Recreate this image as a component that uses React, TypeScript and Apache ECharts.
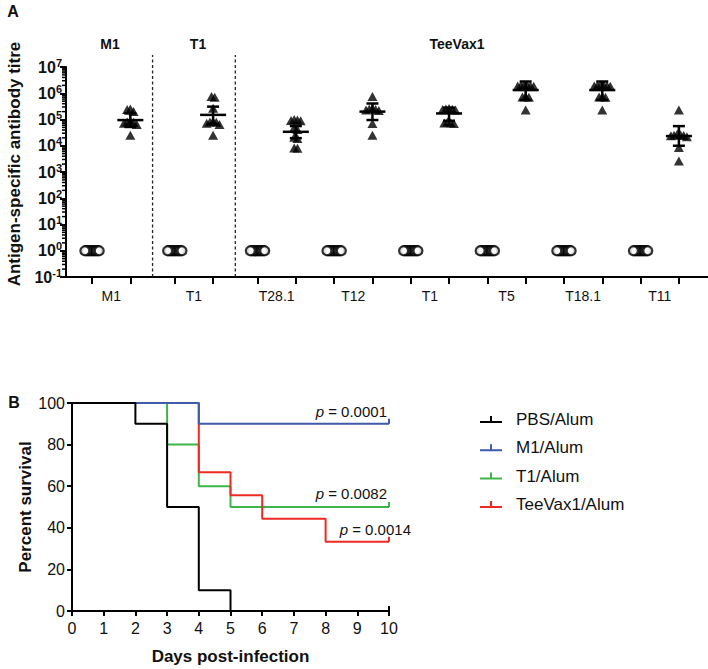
import React, { useEffect, useRef } from "react";
import * as echarts from "echarts";

// ---------- Panel A data ----------
const antigens = ["M1", "T1", "T28.1", "T12", "T1", "T5", "T18.1", "T11"];
const groupHeaders = ["M1", "T1", "TeeVax1"];

const ctrl = [1, 1, 1, 1, 1, 1, 1, 1, 1, 1];
const controlTitres = [ctrl, ctrl, ctrl, ctrl, ctrl, ctrl, ctrl, ctrl];

const immuneTitres = [
  [250000, 240000, 200000, 85000, 80000, 78000, 72000, 65000, 25000],
  [750000, 700000, 270000, 85000, 80000, 78000, 72000, 65000, 25000],
  [100000, 95000, 92000, 90000, 50000, 42000, 21000, 19000, 8200, 8000],
  [750000, 260000, 250000, 240000, 230000, 220000, 70000, 25000],
  [260000, 250000, 245000, 240000, 230000, 80000, 76000, 74000, 70000],
  [2100000, 2050000, 2000000, 1950000, 1900000, 1850000, 750000, 720000, 700000, 230000],
  [2100000, 2050000, 2000000, 1950000, 1900000, 1850000, 750000, 720000, 700000, 230000],
  [230000, 28000, 26000, 25000, 24500, 24000, 22000, 8500, 2600],
];
const meanTitre = [95000, 150000, 34000, 200000, 170000, 1320000, 1320000, 23400];
const sdLower = [52000, 67600, 19500, 95500, 89000, 550000, 550000, 10000];
const sdUpper = [170000, 309000, 56200, 407000, 282000, 2800000, 2800000, 56000];

const yTickExponents = [-1, 0, 1, 2, 3, 4, 5, 6, 7];

// ---------- Panel B data ----------
const survivalNames = ["PBS/Alum", "M1/Alum", "T1/Alum", "TeeVax1/Alum"];
const survivalPBS = [[0, 100], [2, 90], [3, 50], [4, 10], [5, 0], [10, 0]];
const survivalM1 = [[0, 100], [4, 90], [10, 90]];
const survivalT1 = [[0, 100], [3, 80], [4, 60], [5, 50], [10, 50]];
const survivalTeeVax1 = [[0, 100], [4, 66.7], [5, 55.6], [6, 44.4], [8, 33.3], [10, 33.3]];
const pValues = ["0.0001", "0.0082", "0.0014"];

// ---------- layout ----------
const FONT = "'Liberation Sans', Arial, Helvetica, sans-serif";
const TXT = "#111";
const X_MIN = -0.68;
const X_MAX = 16.08;
const GRID_A = { left: 66, right: 0, top: 67, height: 210 };
const GRID_B = { left: 72, top: 403, width: 317, height: 208 };
const PX_PER_UNIT = (708 - GRID_A.left - GRID_A.right) / (X_MAX - X_MIN);
const Y_MIN = -1;
const Y_MAX = 7;

const ctrlPos = (i: number) => 2 * i + 0.16 * Math.min(i, 2);
const immPos = (i: number) => ctrlPos(i) + 1;

function swarm(vals: number[], stepPx: number, thresh: number): number[] {
  const logs = vals.map((v) => Math.log10(v));
  const idx = logs.map((_, i) => i).sort((a, b) => logs[b] - logs[a]);
  const offsets = new Array(vals.length).fill(0);
  let start = 0;
  while (start < idx.length) {
    let end = start + 1;
    while (end < idx.length && logs[idx[start]] - logs[idx[end]] < thresh) end++;
    const n = end - start;
    const slots: number[] = [];
    for (let k = 0; k < n; k++) slots.push((k - (n - 1) / 2) * stepPx);
    slots.sort((a, b) => Math.abs(a) - Math.abs(b) || a - b);
    for (let k = 0; k < n; k++) offsets[idx[start + k]] = slots[k];
    start = end;
  }
  return offsets;
}

function buildOption(): any {
  const ctrlData: number[][] = [];
  const immData: number[][] = [];
  antigens.forEach((_, i) => {
    const co = swarm(controlTitres[i], 1.6, 0.1);
    controlTitres[i].forEach((v, j) => ctrlData.push([ctrlPos(i) + co[j] / PX_PER_UNIT, Math.log10(v)]));
    const io = swarm(immuneTitres[i], 3.2, 0.2);
    immuneTitres[i].forEach((v, j) => immData.push([immPos(i) + io[j] / PX_PER_UNIT, Math.log10(v)]));
  });
  const barData = antigens.map((_, i) => [
    immPos(i),
    Math.log10(meanTitre[i]),
    Math.log10(sdLower[i]),
    Math.log10(sdUpper[i]),
  ]);
  const tickPositions: number[] = [];
  const labelPositions: number[] = [];
  antigens.forEach((_, i) => {
    tickPositions.push(ctrlPos(i), immPos(i));
    labelPositions.push(ctrlPos(i) + 0.5);
  });
  const separators = [
    [(immPos(0) + ctrlPos(1)) / 2, Y_MIN],
    [(immPos(1) + ctrlPos(2)) / 2, Y_MIN],
  ];
  const minorTicks: number[][] = [];
  for (let k = Y_MIN; k < Y_MAX; k++) {
    for (let m = 2; m <= 9; m++) minorTicks.push([X_MIN, k + Math.log10(m)]);
  }

  const blk = { color: "#000", width: 2 };

  const kmSeries = (name: string, pts: number[][], color: string, z: number) => ({
    type: "line",
    name,
    xAxisIndex: 1,
    yAxisIndex: 1,
    step: "end",
    symbol: "none",
    showSymbol: true,
    color,
    z,
    lineStyle: { color, width: 2 },
    itemStyle: { color },
    emphasis: { disabled: true },
    data: pts.map((p, i) =>
      i === pts.length - 1
        ? { value: p, symbol: "rect", symbolSize: [2, 5], symbolOffset: [0, -2.5] }
        : { value: p }
    ),
  });

  const pText = (text: string, x: number, y: number) => ({
    type: "text",
    x,
    y,
    style: {
      text: `{i|p} = ${text}`,
      align: "right",
      verticalAlign: "middle",
      fill: TXT,
      fontSize: 15,
      fontFamily: FONT,
      rich: { i: { fontStyle: "italic", fontSize: 15, fontFamily: FONT, fill: TXT } },
    },
  });

  return {
    animation: false,
    textStyle: { fontFamily: FONT },
    grid: [
      { ...GRID_A, containLabel: false },
      { ...GRID_B, containLabel: false },
    ],
    xAxis: [
      {
        gridIndex: 0,
        type: "value",
        min: X_MIN,
        max: X_MAX,
        axisLine: { onZero: false, lineStyle: blk },
        axisTick: { show: true, customValues: tickPositions, length: 7, lineStyle: blk },
        axisLabel: {
          customValues: labelPositions,
          formatter: (v: number) => {
            const i = labelPositions.findIndex((p) => Math.abs(p - v) < 0.01);
            return i >= 0 ? antigens[i] : "";
          },
          fontSize: 14,
          color: TXT,
          margin: 12,
          fontFamily: FONT,
        },
        splitLine: { show: false },
      },
      {
        gridIndex: 1,
        type: "value",
        min: 0,
        max: 10,
        interval: 1,
        axisLine: { onZero: false, lineStyle: blk },
        axisTick: { length: 5, lineStyle: blk },
        axisLabel: { fontSize: 16, color: TXT, margin: 9, fontFamily: FONT },
        splitLine: { show: false },
        name: "Days post-infection",
        nameLocation: "middle",
        nameGap: 37,
        nameTextStyle: { fontSize: 17, fontWeight: "bold", color: TXT, fontFamily: FONT },
      },
    ],
    yAxis: [
      {
        gridIndex: 0,
        type: "value",
        min: Y_MIN,
        max: Y_MAX,
        interval: 1,
        axisLine: { show: true, onZero: false, lineStyle: blk },
        axisTick: { show: true, length: 6, lineStyle: blk },
        splitLine: { show: false },
        axisLabel: {
          margin: 4,
          fontSize: 16,
          fontWeight: "bold",
          color: TXT,
          fontFamily: FONT,
          formatter: (v: number) => {
            const e = yTickExponents.find((k) => Math.abs(k - v) < 0.01);
            return e === undefined ? "" : `{b|10}{s|${e}}`;
          },
          rich: {
            b: { fontSize: 16, fontWeight: "bold", color: TXT, fontFamily: FONT },
            s: { fontSize: 11, fontWeight: "bold", color: TXT, fontFamily: FONT, padding: [0, 0, 9, 0] },
          },
        },
      },
      {
        gridIndex: 1,
        type: "value",
        min: 0,
        max: 100,
        interval: 20,
        axisLine: { show: true, onZero: false, lineStyle: blk },
        axisTick: { show: true, length: 5, lineStyle: blk },
        splitLine: { show: false },
        axisLabel: { fontSize: 16, color: TXT, margin: 7, fontFamily: FONT },
        name: "Percent survival",
        nameLocation: "middle",
        nameGap: 38,
        nameTextStyle: { fontSize: 17, fontWeight: "bold", color: TXT, fontFamily: FONT },
      },
    ],
    legend: {
      data: survivalNames,
      orient: "vertical",
      left: 475,
      top: 405,
      itemWidth: 22,
      itemHeight: 9,
      itemGap: 9.3,
      icon: "path://M0,7H22V9H0ZM10,2H12V7H10Z",
      itemStyle: { borderWidth: 0 },
      selectedMode: false,
      textStyle: { fontSize: 17, color: TXT, padding: [0, 0, 0, 9], lineHeight: 19, fontFamily: FONT },
    },
    graphic: [
      { type: "text", x: 13, y: 11, style: { text: "A", fontSize: 16, fontWeight: "bold", fill: TXT, fontFamily: FONT, align: "center", verticalAlign: "middle" } },
      { type: "text", x: 14, y: 402, style: { text: "B", fontSize: 16, fontWeight: "bold", fill: TXT, fontFamily: FONT, align: "center", verticalAlign: "middle" } },
      {
        type: "text",
        x: 14,
        y: 164,
        rotation: Math.PI / 2,
        style: { text: "Antigen-specific antibody titre", fontSize: 17, fontWeight: "bold", fill: TXT, fontFamily: FONT, align: "center", verticalAlign: "middle" },
      },
      { type: "text", x: 110, y: 44, style: { text: groupHeaders[0], fontSize: 14, fontWeight: "bold", fill: TXT, fontFamily: FONT, align: "center", verticalAlign: "middle" } },
      { type: "text", x: 198, y: 44, style: { text: groupHeaders[1], fontSize: 14, fontWeight: "bold", fill: TXT, fontFamily: FONT, align: "center", verticalAlign: "middle" } },
      { type: "text", x: 457, y: 44, style: { text: groupHeaders[2], fontSize: 14, fontWeight: "bold", fill: TXT, fontFamily: FONT, align: "center", verticalAlign: "middle" } },
      pText(pValues[0], 387, 411),
      pText(pValues[1], 387, 493),
      pText(pValues[2], 411, 529),
    ],
    series: [
      {
        type: "custom",
        name: "separators",
        xAxisIndex: 0,
        yAxisIndex: 0,
        silent: true,
        data: separators,
        renderItem: (_p: any, api: any) => {
          const x = api.value(0);
          const b = api.coord([x, Y_MIN]);
          const t = api.coord([x, Y_MAX + 0.46]);
          return {
            type: "line",
            shape: { x1: b[0], y1: b[1], x2: t[0], y2: t[1] },
            style: { stroke: "#222", lineWidth: 1.3, lineDash: [3, 2.5] },
          };
        },
        z: 1,
      },
      {
        type: "custom",
        name: "minorTicks",
        xAxisIndex: 0,
        yAxisIndex: 0,
        silent: true,
        data: minorTicks,
        renderItem: (_p: any, api: any) => {
          const c = api.coord([api.value(0), api.value(1)]);
          return {
            type: "line",
            shape: { x1: c[0] - 4, y1: c[1], x2: c[0], y2: c[1] },
            style: { stroke: "#000", lineWidth: 1.5 },
          };
        },
        z: 1,
      },
      {
        type: "scatter",
        name: "control",
        xAxisIndex: 0,
        yAxisIndex: 0,
        symbol: "circle",
        symbolSize: 9,
        itemStyle: { color: "#fff", borderColor: "#000", borderWidth: 2.2 },
        data: ctrlData,
        z: 2,
      },
      {
        type: "scatter",
        name: "immunised",
        xAxisIndex: 0,
        yAxisIndex: 0,
        symbol: "triangle",
        symbolSize: [10, 9],
        itemStyle: { color: "#000" },
        data: immData,
        z: 2,
      },
      {
        type: "custom",
        name: "meanSD",
        xAxisIndex: 0,
        yAxisIndex: 0,
        silent: true,
        data: barData,
        encode: { x: 0, y: [1, 2, 3] },
        renderItem: (_p: any, api: any) => {
          const x = api.value(0);
          const m = api.coord([x, api.value(1)]);
          const lo = api.coord([x, api.value(2)]);
          const hi = api.coord([x, api.value(3)]);
          const st = { stroke: "#000", lineWidth: 2.5 };
          return {
            type: "group",
            children: [
              { type: "line", shape: { x1: m[0] - 13, y1: m[1], x2: m[0] + 13, y2: m[1] }, style: st },
              { type: "line", shape: { x1: m[0], y1: lo[1], x2: m[0], y2: hi[1] }, style: st },
              { type: "line", shape: { x1: m[0] - 6, y1: lo[1], x2: m[0] + 6, y2: lo[1] }, style: st },
              { type: "line", shape: { x1: m[0] - 6, y1: hi[1], x2: m[0] + 6, y2: hi[1] }, style: st },
            ],
          };
        },
        z: 3,
      },
      kmSeries(survivalNames[2], survivalT1, "#3DB54A", 4),
      kmSeries(survivalNames[3], survivalTeeVax1, "#EE2A24", 5),
      kmSeries(survivalNames[1], survivalM1, "#3F5BA9", 6),
      kmSeries(survivalNames[0], survivalPBS, "#000000", 7),
    ],
  };
}

export default function App() {
  const ref = useRef<HTMLDivElement>(null);
  useEffect(() => {
    document.body.style.margin = "0";
    const chart = echarts.init(ref.current!, undefined, { renderer: "svg" });
    chart.setOption(buildOption());
    return () => chart.dispose();
  }, []);
  return <div ref={ref} style={{ width: 708, height: 669, position: "absolute", left: 0, top: 0 }} />;
}
